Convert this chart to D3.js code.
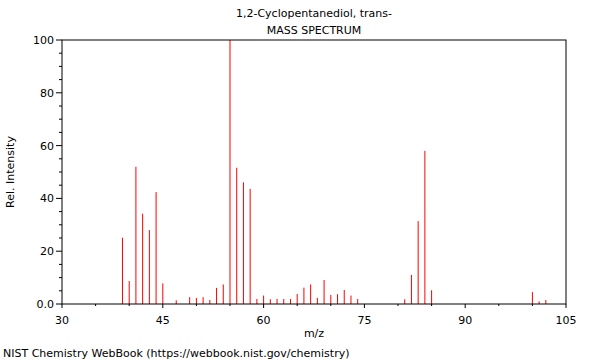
<!DOCTYPE html>
<html>
<head>
<meta charset="UTF-8">
<script src="https://d3js.org/d3.v7.min.js"></script>
<style>
  body { margin: 0; background: #fff; }
  text { font-family: "DejaVu Sans", sans-serif; fill: #000; }
</style>
</head>
<body>
<div id="chart"></div>
<script>
// peaks
var mz = [39, 40, 41, 42, 43, 44, 45, 47, 49, 50, 51, 52, 53, 54, 55, 56, 57, 58,
          59, 60, 61, 62, 63, 64, 65, 66, 67, 68, 69, 70, 71, 72, 73, 74,
          81, 82, 83, 84, 85, 100, 101, 102];
var intensity = [25.1, 8.7, 52.0, 34.2, 28.0, 42.4, 7.8, 1.4, 2.6, 2.3, 2.6, 1.5, 6.1, 7.4, 100, 51.6, 46.1, 43.6,
                 1.9, 3.2, 1.8, 1.9, 1.9, 1.9, 3.8, 6.2, 7.4, 2.3, 9.1, 3.4, 3.7, 5.3, 3.2, 1.9,
                 1.8, 11.0, 31.4, 58.0, 5.2, 4.5, 1.0, 1.5];
var xTicks = [30, 45, 60, 75, 90, 105];
var yTicks = [0, 20, 40, 60, 80, 100];
var yTickLabels = ["0.0", "20", "40", "60", "80", "100"];
var title = "1,2-Cyclopentanediol, trans-";
var subtitle = "MASS SPECTRUM";

var W = 600, H = 360;
var m = {left: 62, right: 34, top: 40, bottom: 56};

var svg = d3.select("#chart").append("svg")
  .attr("width", W).attr("height", H);

var x = d3.scaleLinear().domain([30, 105]).range([m.left, W - m.right]);
var y = d3.scaleLinear().domain([0, 100]).range([H - m.bottom, m.top]);

// peaks
svg.append("g").selectAll("line")
  .data(mz)
  .enter().append("line")
    .attr("x1", function(d) { return x(d); })
    .attr("x2", function(d) { return x(d); })
    .attr("y1", y(0))
    .attr("y2", function(d, i) { return y(intensity[i]); })
    .attr("stroke", "#ff0000")
    .attr("stroke-width", 1);

// ticks, major + minor
var g = svg.append("g").attr("stroke", "#000");
d3.range(30, 106, 5).forEach(function(v) {
  var big = xTicks.indexOf(v) >= 0;
  g.append("line").attr("x1", x(v)).attr("x2", x(v))
    .attr("y1", y(0)).attr("y2", y(0) + (big ? 4 : 2));
});
d3.range(0, 101, 5).forEach(function(v) {
  var big = yTicks.indexOf(v) >= 0;
  g.append("line").attr("y1", y(v)).attr("y2", y(v))
    .attr("x1", x(30)).attr("x2", x(30) - (big ? 6 : 3));
});

// frame
svg.append("rect")
  .attr("x", x(30)).attr("y", y(100))
  .attr("width", x(105) - x(30)).attr("height", y(0) - y(100))
  .attr("fill", "none").attr("stroke", "#000").attr("stroke-width", 1);

// labels
svg.append("g").selectAll("text").data(xTicks).enter().append("text")
  .attr("x", function(d) { return x(d); }).attr("y", y(0) + 20)
  .attr("text-anchor", "middle").attr("font-size", 11)
  .text(function(d) { return d; });

svg.append("g").selectAll("text").data(yTicks).enter().append("text")
  .attr("x", x(30) - 8).attr("y", function(d) { return y(d) + 4; })
  .attr("text-anchor", "end").attr("font-size", 11)
  .text(function(d, i) { return yTickLabels[i]; });

svg.append("text").attr("x", (x(30) + x(105)) / 2).attr("y", 17)
  .attr("text-anchor", "middle").attr("font-size", 11).text(title);
svg.append("text").attr("x", (x(30) + x(105)) / 2).attr("y", 34)
  .attr("text-anchor", "middle").attr("font-size", 11).text(subtitle);

svg.append("text").attr("x", (x(30) + x(105)) / 2).attr("y", 337)
  .attr("text-anchor", "middle").attr("font-size", 11).text("m/z");

svg.append("text")
  .attr("transform", "translate(14," + ((y(0) + y(100)) / 2) + ") rotate(-90)")
  .attr("text-anchor", "middle").attr("font-size", 11).text("Rel. Intensity");

svg.append("text").attr("x", 3).attr("y", 357)
  .attr("font-size", 11).text("NIST Chemistry WebBook (https://webbook.nist.gov/chemistry)");
</script>
</body>
</html>
